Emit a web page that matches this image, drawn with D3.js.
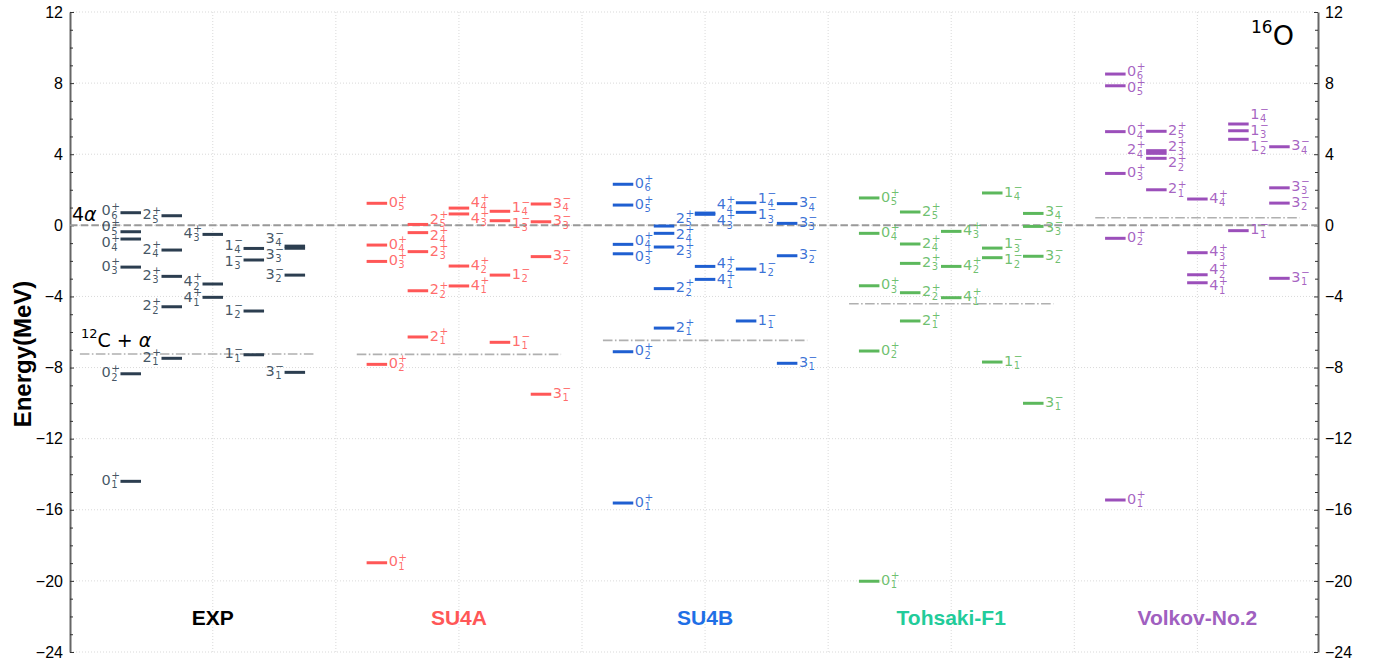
<!DOCTYPE html>
<html>
<head>
<meta charset="utf-8">
<script src="https://cdn.jsdelivr.net/npm/d3@7"></script>
<style>
  body { margin: 0; background: #fff; }
</style>
</head>
<body>
<svg id="chart" width="1374" height="660"></svg>
<script>
// groups (calculation / experiment) and spin-parity columns
const groups = ["EXP", "SU4A", "SU4B", "Tohsaki-F1", "Volkov-No.2"];
const spins = [["0", "+"], ["2", "+"], ["4", "+"], ["1", "\u2212"], ["3", "\u2212"]];

// energies (MeV, relative to 4α threshold), one list per column 0+, 2+, 4+, 1-, 3-
const expE = [
  [-14.4, -8.35, -2.35, -0.77, -0.36, 0.71],
  [-7.48, -4.58, -2.87, -1.39, 0.54],
  [-4.05, -3.3, -0.51],
  [-7.28, -4.82, -1.95, -1.3],
  [-8.27, -2.8, -1.29, -1.17]
];
const su4aE = [
  [-18.98, -7.82, -2.03, -1.11, 1.24],
  [-6.28, -3.68, -1.48, -0.41, 0.05],
  [-3.41, -2.29, 0.64, 0.97],
  [-6.58, -2.8, 0.26, 0.79],
  [-9.5, -1.76, 0.2, 1.2]
];
const su4bE = [
  [-15.62, -7.11, -1.6, -1.07, 1.14, 2.31],
  [-5.78, -3.56, -1.22, -0.45, -0.04],
  [-3.04, -2.31, 0.62, 0.69],
  [-5.38, -2.46, 0.73, 1.27],
  [-7.76, -1.71, 0.11, 1.22]
];
const tohE = [
  [-20.02, -7.07, -3.4, -0.45, 1.54],
  [-5.38, -3.79, -2.14, -1.05, 0.75],
  [-4.07, -2.31, -0.34],
  [-7.69, -1.82, -1.28, 1.82],
  [-10.01, -1.74, -0.06, 0.67]
];
const volE = [
  [-15.45, -0.73, 2.92, 5.27, 7.85, 8.51],
  [2.0, 3.77, 4.05, 4.2, 5.29],
  [-3.23, -2.78, -1.54, 1.48],
  [-0.3, 4.84, 5.32, 5.7],
  [-2.98, 1.25, 2.11, 4.42]
];
const allE = [expE, su4aE, su4bE, tohE, volE];

// 12C + α threshold per group
const thr12C = [-7.24, -7.26, -6.47, -4.41, 0.43];
const fourAlpha = 0;

const yTicks = [12, 8, 4, 0, -4, -8, -12, -16, -20, -24];

const barColors = ["#2c3e50", "#ff5757", "#1f5fd1", "#5cb85c", "#9b4fba"];
const nameColors = ["#000000", "#ff5757", "#1f6fe6", "#22cc9a", "#a060c0"];

const svg = d3.select("#chart");
const pLeft = 70, pRight = 1318, pTop = 12, pBottom = 652;

const x = d3.scaleLinear().domain([-1.16, 8.98]).range([pLeft, pRight]);
const y = d3.scaleLinear().domain([-24, 12]).range([pBottom, pTop]);

const colOff = [-2 / 3, -1 / 3, 0, 1 / 3, 2 / 3];
const halfBar = 1 / 12;
const labelGap = 16;

// grid
svg.append("g").selectAll("line")
  .data(yTicks)
  .enter().append("line")
  .attr("x1", pLeft).attr("x2", pRight)
  .attr("y1", d => y(d)).attr("y2", d => y(d))
  .attr("stroke", "#cfcfcf").attr("stroke-width", 0.8)
  .attr("stroke-dasharray", "1,2");
svg.append("g").selectAll("line")
  .data(d3.range(0, 9))
  .enter().append("line")
  .attr("x1", d => x(d)).attr("x2", d => x(d))
  .attr("y1", pTop).attr("y2", pBottom)
  .attr("stroke", "#cfcfcf").attr("stroke-width", 0.8)
  .attr("stroke-dasharray", "1,2");

// axes
const minor = d3.range(-24, 13).filter(d => d % 4 !== 0);
function styleAxis(g) {
  g.select(".domain").attr("stroke", "#666").attr("stroke-width", 2);
  g.selectAll(".tick line").attr("stroke", "#333");
  g.selectAll("text").attr("font-family", "Liberation Sans, Arial, sans-serif")
    .attr("font-size", 16).attr("fill", "#000");
}
svg.append("g").attr("transform", `translate(${pLeft},0)`)
  .call(d3.axisLeft(y).tickValues(yTicks).tickSize(-4).tickSizeOuter(0).tickPadding(7).tickFormat(d3.format("d")))
  .call(styleAxis);
svg.append("g").attr("transform", `translate(${pLeft},0)`)
  .call(d3.axisLeft(y).tickValues(minor).tickSize(-3).tickSizeOuter(0).tickFormat(""))
  .call(g => g.select(".domain").remove())
  .call(g => g.selectAll("line").attr("stroke", "#333"));
svg.append("g").attr("transform", `translate(${pRight},0)`)
  .call(d3.axisRight(y).tickValues(yTicks).tickSize(-4).tickSizeOuter(0).tickPadding(7).tickFormat(d3.format("d")))
  .call(styleAxis);
svg.append("g").attr("transform", `translate(${pRight},0)`)
  .call(d3.axisRight(y).tickValues(minor).tickSize(-3).tickSizeOuter(0).tickFormat(""))
  .call(g => g.select(".domain").remove())
  .call(g => g.selectAll("line").attr("stroke", "#333"));

// 4α threshold
svg.append("line")
  .attr("x1", pLeft).attr("x2", pRight)
  .attr("y1", y(fourAlpha)).attr("y2", y(fourAlpha))
  .attr("stroke", "#999").attr("stroke-width", 2)
  .attr("stroke-dasharray", "7.5,3.2");

// 12C + α thresholds
const thrLeft = [-1.08, -0.83, -0.83, -0.83, -0.83];
svg.append("g").selectAll("line")
  .data(thr12C)
  .enter().append("line")
  .attr("x1", (d, i) => x(2 * i + thrLeft[i]))
  .attr("x2", (d, i) => x(2 * i + 0.83))
  .attr("y1", d => y(d)).attr("y2", d => y(d))
  .attr("stroke", "#b0b0b0").attr("stroke-width", 1.6)
  .attr("stroke-dasharray", "9.6,2.4,1.6,2.4");

// level label: J with parity superscript and index subscript
function label(xp, yp, j, par, n, onLeft, color) {
  const g = svg.append("g").attr("fill", color).attr("fill-opacity", 0.88)
    .attr("font-family", "DejaVu Sans, sans-serif");
  const m = g.append("text").attr("font-size", 14.5).attr("y", yp + 3.6).text(j);
  const s1 = g.append("text").attr("font-size", 10.5).attr("y", yp - 2.2).text(par);
  const s2 = g.append("text").attr("font-size", 10).attr("y", yp + 7).text(n);
  const w = m.node().getComputedTextLength();
  const ws = Math.max(s1.node().getComputedTextLength(), s2.node().getComputedTextLength());
  const x0 = onLeft ? xp - 1 - w - ws : xp + 1.5;
  m.attr("x", x0);
  s1.attr("x", x0 + w + 0.5);
  s2.attr("x", x0 + w + 0.5);
}

// push label positions apart so stacked levels stay readable
function spread(items) {
  items.sort((a, b) => a.ly - b.ly);
  for (let it = 0; it < 60; it++) {
    let moved = false;
    for (let i = 1; i < items.length; i++) {
      const d = items[i].ly - items[i - 1].ly;
      if (d < labelGap - 0.01) {
        const s = (labelGap - d) / 2;
        items[i - 1].ly -= s;
        items[i].ly += s;
        moved = true;
      }
    }
    if (!moved) break;
  }
}

// levels
allE.forEach((cols, gi) => {
  cols.forEach((vals, ci) => {
    const cx = 2 * gi + colOff[ci];
    svg.append("g").selectAll("line")
      .data(vals)
      .enter().append("line")
      .attr("x1", x(cx - halfBar)).attr("x2", x(cx + halfBar))
      .attr("y1", d => y(d)).attr("y2", d => y(d))
      .attr("stroke", barColors[gi]).attr("stroke-width", 3);
    const items = vals.map((v, k) => ({
      v, n: k + 1, ly: y(v),
      onLeft: gi === 0 || (gi === 4 && ci === 1 && k === 3)
    }));
    spread(items.filter(d => d.onLeft));
    spread(items.filter(d => !d.onLeft));
    items.forEach(d => {
      const xp = d.onLeft ? x(cx - halfBar) : x(cx + halfBar);
      label(xp, d.ly, spins[ci][0], spins[ci][1], d.n, d.onLeft, barColors[gi]);
    });
  });
});

// group names
svg.append("g").selectAll("text")
  .data(groups)
  .enter().append("text")
  .attr("x", (d, i) => x(2 * i))
  .attr("y", 625)
  .attr("text-anchor", "middle")
  .attr("font-family", "Liberation Sans, Arial, sans-serif")
  .attr("font-weight", "bold")
  .attr("font-size", 21)
  .attr("fill", (d, i) => nameColors[i])
  .text(d => d);

// threshold annotations
const t4 = svg.append("text").attr("x", 72).attr("y", 221)
  .attr("font-family", "DejaVu Sans, sans-serif").attr("font-size", 19);
t4.append("tspan").text("4");
t4.append("tspan").attr("font-style", "italic").text("\u03b1");

const tc = svg.append("text").attr("x", 81).attr("y", 347)
  .attr("font-family", "DejaVu Sans, sans-serif").attr("font-size", 19);
tc.append("tspan").attr("font-size", 13).attr("dy", -9).text("12");
tc.append("tspan").attr("dy", 9).text("C + ");
tc.append("tspan").attr("font-style", "italic").text("\u03b1");

// nucleus tag
const tO = svg.append("text").attr("x", 1251).attr("y", 45)
  .attr("font-family", "DejaVu Sans, sans-serif").attr("font-size", 27);
tO.append("tspan").attr("font-size", 17).attr("dy", -12).text("16");
tO.append("tspan").attr("dy", 12).text("O");

// y label
svg.append("text")
  .attr("transform", `translate(31,${(pTop + pBottom) / 2 + 22}) rotate(-90)`)
  .attr("text-anchor", "middle")
  .attr("font-family", "Liberation Sans, Arial, sans-serif")
  .attr("font-weight", "bold")
  .attr("font-size", 24)
  .text("Energy(MeV)");
</script>
</body>
</html>
